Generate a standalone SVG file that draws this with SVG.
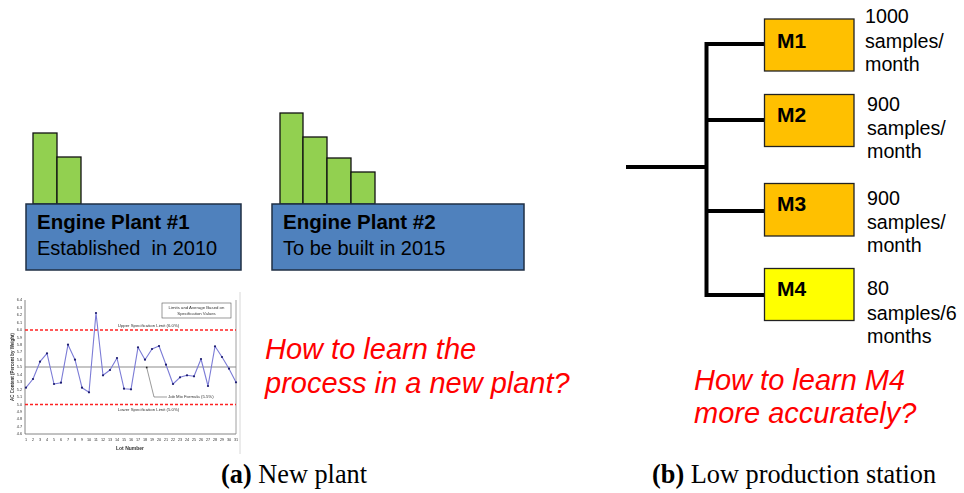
<svg xmlns="http://www.w3.org/2000/svg" width="964" height="493" viewBox="0 0 964 493">
  <defs>
    <style>
      .plant { fill: #4F81BD; stroke: #1f2f44; stroke-width: 1.5; }
      .bar { fill: #92D050; stroke: #111; stroke-width: 1.3; }
      .mbox { stroke: #222; stroke-width: 1.3; }
      .sans { font-family: "Liberation Sans", Arial, sans-serif; }
      .ptitle { font-family: "Liberation Sans", Arial, sans-serif; font-weight: bold; font-size: 20.5px; fill: #000; }
      .psub { font-family: "Liberation Sans", Arial, sans-serif; font-size: 20px; fill: #000; }
      .mlabel { font-family: "Liberation Sans", Arial, sans-serif; font-weight: bold; font-size: 21px; fill: #000; }
      .rate { font-family: "Liberation Sans", Arial, sans-serif; font-size: 19.7px; fill: #000; }
      .question { font-family: "Liberation Sans", Arial, sans-serif; font-style: italic; font-size: 29px; fill: #FF0000; }
      .caption { font-family: "Liberation Serif", "Times New Roman", serif; font-size: 26.3px; fill: #000; }
      .tiny { font-family: "Liberation Sans", Arial, sans-serif; font-size: 4.3px; fill: #333; }
      .tick { font-family: "Liberation Sans", Arial, sans-serif; font-size: 3.8px; fill: #333; }
      .spec { stroke: #FF2020; stroke-width: 1.4; stroke-dasharray: 3 2; }
      .wire { fill: none; stroke: #000; stroke-width: 4; stroke-linejoin: miter; }
    </style>
    <filter id="soft" x="-5%" y="-5%" width="110%" height="110%">
      <feGaussianBlur stdDeviation="0.35"/>
    </filter>
  </defs>

  <rect width="964" height="493" fill="#fff"/>

  <!-- (a) plants -->
  <g id="plant1">
    <rect class="bar" x="33" y="133" width="24" height="71"/>
    <rect class="bar" x="57" y="157" width="24" height="47"/>
    <rect class="plant" x="26" y="204" width="215" height="66"/>
    <text class="ptitle" x="37" y="229">Engine Plant #1</text>
    <text class="psub" x="37" y="255" xml:space="preserve">Established  in 2010</text>
  </g>

  <g id="plant2">
    <rect class="bar" x="280" y="113" width="23" height="91"/>
    <rect class="bar" x="303" y="137" width="24" height="67"/>
    <rect class="bar" x="327" y="158" width="24" height="46"/>
    <rect class="bar" x="351" y="172" width="24" height="32"/>
    <rect class="plant" x="272" y="204" width="252" height="66"/>
    <text class="ptitle" x="283" y="229">Engine Plant #2</text>
    <text class="psub" x="283" y="255">To be built in 2015</text>
  </g>

  <!-- control chart of AC content per lot -->
  <g id="chart" filter="url(#soft)">
    <line x1="240" y1="292" x2="240" y2="454" stroke="#d8d8d8" stroke-width="1"/>
    <!-- axes and plot border -->
    <line x1="25" y1="300" x2="25" y2="434" stroke="#666" stroke-width="0.8"/>
    <line x1="25" y1="434" x2="236" y2="434" stroke="#666" stroke-width="0.8"/>
    <line x1="236" y1="300" x2="236" y2="434" stroke="#888" stroke-width="0.8"/>
    <!-- limits and average -->
    <line class="spec" x1="25" y1="330" x2="236" y2="330"/>
    <line class="spec" x1="25" y1="404.5" x2="236" y2="404.5"/>
    <line x1="25" y1="367" x2="236" y2="367" stroke="#8c8c8c" stroke-width="1.2"/>
    <!-- y ticks -->
    <g class="tick" text-anchor="end">
      <text x="22" y="301.3">6.4</text>
      <text x="22" y="308.7">6.3</text>
      <text x="22" y="316.2">6.2</text>
      <text x="22" y="323.6">6.1</text>
      <text x="22" y="331.1">6.0</text>
      <text x="22" y="338.5">5.9</text>
      <text x="22" y="345.9">5.8</text>
      <text x="22" y="353.4">5.7</text>
      <text x="22" y="360.8">5.6</text>
      <text x="22" y="368.3">5.5</text>
      <text x="22" y="375.7">5.4</text>
      <text x="22" y="383.1">5.3</text>
      <text x="22" y="390.6">5.2</text>
      <text x="22" y="398.0">5.1</text>
      <text x="22" y="405.5">5.0</text>
      <text x="22" y="412.9">4.9</text>
      <text x="22" y="420.3">4.8</text>
      <text x="22" y="427.8">4.7</text>
      <text x="22" y="435.2">4.6</text>
    </g>
    <!-- x ticks -->
    <g class="tick" text-anchor="middle">
      <text x="26" y="441">1</text><text x="33" y="441">2</text><text x="40" y="441">3</text>
      <text x="47" y="441">4</text><text x="54" y="441">5</text><text x="61" y="441">6</text>
      <text x="68" y="441">7</text><text x="75" y="441">8</text><text x="82" y="441">9</text>
      <text x="89" y="441">10</text><text x="96" y="441">11</text><text x="103" y="441">12</text>
      <text x="110" y="441">13</text><text x="117" y="441">14</text><text x="124" y="441">15</text>
      <text x="131" y="441">16</text><text x="138" y="441">17</text><text x="145" y="441">18</text>
      <text x="152" y="441">19</text><text x="159" y="441">20</text><text x="166" y="441">21</text>
      <text x="173" y="441">22</text><text x="180" y="441">23</text><text x="187" y="441">24</text>
      <text x="194" y="441">25</text><text x="201" y="441">26</text><text x="208" y="441">27</text>
      <text x="215" y="441">28</text><text x="222" y="441">29</text><text x="229" y="441">30</text>
      <text x="236" y="441">31</text>
    </g>
    <text class="sans" x="130" y="450" font-size="5px" font-weight="bold" fill="#333" text-anchor="middle">Lot Number</text>
    <text class="sans" transform="translate(13.5 367) rotate(-90)" font-size="4.5px" font-weight="bold" fill="#333" text-anchor="middle">AC Content (Percent by Weight)</text>
    <text class="tiny" x="148.5" y="326.5" text-anchor="middle">Upper Specification Limit (6.0%)</text>
    <text class="tiny" x="148.5" y="410.8" text-anchor="middle">Lower Specification Limit (5.0%)</text>
    <!-- legend box -->
    <rect x="162" y="303" width="69" height="15" fill="#fff" stroke="#555" stroke-width="0.6"/>
    <text class="tiny" x="196.5" y="309.3" text-anchor="middle">Limits and Average Based on</text>
    <text class="tiny" x="196.5" y="315.3" text-anchor="middle">Specification Values</text>
    <!-- job mix formula callout -->
    <polyline points="146.7,367.5 154,397 167,397" fill="none" stroke="#555" stroke-width="0.6"/>
    <rect x="145.9" y="366.7" width="1.6" height="1.6" fill="#222"/>
    <text class="tiny" x="168" y="398.3">Job Mix Formula (5.5%)</text>
    <!-- lot values -->
    <polyline fill="none" stroke="#7b7bd6" stroke-width="1.1" stroke-linejoin="round"
      points="26,387.7 33,379 40,361.7 47,353.3 54,384 61,382.7 68,344.7 75,359.7 82,387.7 89,392.3 96,313 103,375.3 110,370 117,358 124,388.7 131,389.3 138,347.3 145,359.7 152,349 159,346 166,364.7 173,384 180,377.3 187,375.3 194,376.3 201,359 208,386 215,346.3 222,357 229,368.7 236,382.3"/>
    <g fill="#1a1a6e">
      <circle cx="26" cy="387.7" r="1.1"/><circle cx="33" cy="379" r="1.1"/><circle cx="40" cy="361.7" r="1.1"/>
      <circle cx="47" cy="353.3" r="1.1"/><circle cx="54" cy="384" r="1.1"/><circle cx="61" cy="382.7" r="1.1"/>
      <circle cx="68" cy="344.7" r="1.1"/><circle cx="75" cy="359.7" r="1.1"/><circle cx="82" cy="387.7" r="1.1"/>
      <circle cx="89" cy="392.3" r="1.1"/><circle cx="96" cy="313" r="1.1"/><circle cx="103" cy="375.3" r="1.1"/>
      <circle cx="110" cy="370" r="1.1"/><circle cx="117" cy="358" r="1.1"/><circle cx="124" cy="388.7" r="1.1"/>
      <circle cx="131" cy="389.3" r="1.1"/><circle cx="138" cy="347.3" r="1.1"/><circle cx="145" cy="359.7" r="1.1"/>
      <circle cx="152" cy="349" r="1.1"/><circle cx="159" cy="346" r="1.1"/><circle cx="166" cy="364.7" r="1.1"/>
      <circle cx="173" cy="384" r="1.1"/><circle cx="180" cy="377.3" r="1.1"/><circle cx="187" cy="375.3" r="1.1"/>
      <circle cx="194" cy="376.3" r="1.1"/><circle cx="201" cy="359" r="1.1"/><circle cx="208" cy="386" r="1.1"/>
      <circle cx="215" cy="346.3" r="1.1"/><circle cx="222" cy="357" r="1.1"/><circle cx="229" cy="368.7" r="1.1"/>
      <circle cx="236" cy="382.3" r="1.1"/>
    </g>
  </g>

  <g id="question-a">
    <text class="question" x="265" y="359">How to learn the</text>
    <text class="question" x="265" y="393">process in a new plant?</text>
  </g>

  <!-- (b) stations fed from a common line -->
  <g id="connectors">
    <line class="wire" x1="626" y1="167" x2="706.5" y2="167"/>
    <path class="wire" d="M765,44 H706.5 V295 H765"/>
    <line class="wire" x1="706.5" y1="120" x2="765" y2="120"/>
    <line class="wire" x1="706.5" y1="211" x2="765" y2="211"/>
  </g>

  <g id="m1">
    <rect class="mbox" x="764.5" y="19" width="89.5" height="52" fill="#FFC000"/>
    <text class="mlabel" x="777" y="48">M1</text>
    <text class="rate" x="865" y="23">1000</text>
    <text class="rate" x="865" y="48">samples/</text>
    <text class="rate" x="865" y="71">month</text>
  </g>
  <g id="m2">
    <rect class="mbox" x="764.5" y="94.5" width="89.5" height="52" fill="#FFC000"/>
    <text class="mlabel" x="777" y="122">M2</text>
    <text class="rate" x="867" y="111">900</text>
    <text class="rate" x="867" y="135">samples/</text>
    <text class="rate" x="867" y="158">month</text>
  </g>
  <g id="m3">
    <rect class="mbox" x="764.5" y="183.5" width="89.5" height="52.5" fill="#FFC000"/>
    <text class="mlabel" x="777" y="211">M3</text>
    <text class="rate" x="867" y="205">900</text>
    <text class="rate" x="867" y="229">samples/</text>
    <text class="rate" x="867" y="252">month</text>
  </g>
  <g id="m4">
    <rect class="mbox" x="764.5" y="268.5" width="89.5" height="52" fill="#FFFF00"/>
    <text class="mlabel" x="777" y="296">M4</text>
    <text class="rate" x="867" y="295">80</text>
    <text class="rate" x="867" y="320">samples/6</text>
    <text class="rate" x="867" y="343">months</text>
  </g>

  <g id="question-b">
    <text class="question" x="694" y="390">How to learn M4</text>
    <text class="question" x="694" y="423">more accurately?</text>
  </g>

  <!-- captions -->
  <text class="caption" x="221" y="483"><tspan font-weight="bold">(a)</tspan> New plant</text>
  <text class="caption" x="652" y="483"><tspan font-weight="bold">(b)</tspan> Low production station</text>
</svg>
